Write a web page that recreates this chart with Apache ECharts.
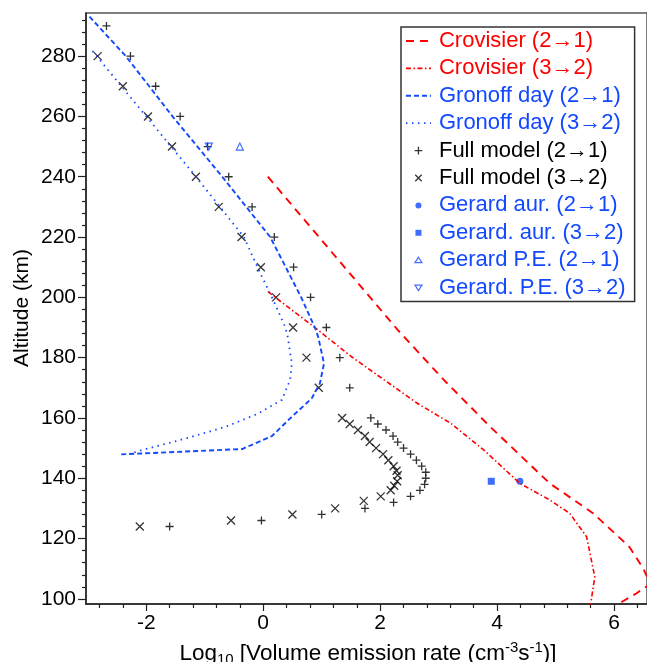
<!DOCTYPE html>
<html>
<head>
<meta charset="utf-8">
<script src="https://cdn.jsdelivr.net/npm/echarts@6/dist/echarts.min.js"></script>
<style>
  html, body { margin: 0; padding: 0; background: #fff; }
  #chart { width: 647px; height: 662px; }
</style>
</head>
<body>
<div id="chart"></div>
<script>
// ---- axis ranges and tick values ----
const X_MIN = -3.03, X_MAX = 6.563;
const Y_MIN = 98.3, Y_MAX = 294.3;
const xMajorTicks = [-2, 0, 2, 4, 6];
const xMinorTicks = [-2.8, -2.4, -1.6, -1.2, -0.8, -0.4, 0.4, 0.8, 1.2, 1.6, 2.4, 2.8, 3.2, 3.6, 4.4, 4.8, 5.2, 5.6, 6.4];
const yMajorTicks = [100, 120, 140, 160, 180, 200, 220, 240, 260, 280];
const yMinorTicks = [104, 108, 112, 116, 124, 128, 132, 136, 144, 148, 152, 156, 164, 168, 172, 176,
                     184, 188, 192, 196, 204, 208, 212, 216, 224, 228, 232, 236, 244, 248, 252, 256,
                     264, 268, 272, 276, 284, 288, 292];

// ---- Crovisier profiles (log10 rate, altitude km) ----
const crovisier21Log = [0.08, 2.30, 3.09, 3.88, 4.90, 5.64, 6.26, 6.50, 6.62, 6.38, 6.00];
const crovisier21Alt = [240, 189.2, 172.6, 157.1, 138.3, 128.4, 117.3, 110, 105, 101.8, 97.5];
const crovisier32Log = [0.08, 0.83, 1.51, 2.07, 2.64, 3.21, 3.77, 4.39, 4.90, 5.24, 5.53, 5.67, 5.61, 5.60];
const crovisier32Alt = [201.9, 190.8, 180.3, 172.6, 164.8, 158.2, 149.4, 138.3, 132.8, 128.4, 120.6, 107.3, 99.6, 97.5];

// ---- Gronoff dayside profiles ----
const gronoff21Log = [-2.97, -2.35, -1.55, -0.70, 0.12, 0.65, 0.89, 0.94, 1.04, 0.97, 0.83, 0.49, 0.15, -0.36, -2.45];
const gronoff21Alt = [293.1, 280, 260, 240, 220, 200, 189.7, 186.9, 178.1, 171.5, 166.5, 160.4, 154, 149.7, 147.9];
const gronoff32Log = [-2.92, -2.00, -1.15, -0.33, -0.05, 0.15, 0.38, 0.42, 0.49, 0.46, 0.32, -0.08, -0.64, -1.32, -2.06, -2.25];
const gronoff32Alt = [281.7, 260, 240, 220, 208, 200, 190, 186.9, 178.1, 172.6, 166, 161.5, 157.1, 153.2, 149.4, 148.3];

// ---- Full model points ----
const full21Alt = [124, 126, 128, 130, 132, 134, 136, 138, 140, 142, 144, 146, 148, 150, 152, 154, 156, 158, 160,
                   170, 180, 190, 200, 210, 220, 230, 240, 250, 260, 270, 280, 290];
const full21Log = [-1.60, -0.03, 1.00, 1.74, 2.23, 2.52, 2.68, 2.76, 2.78, 2.78, 2.71, 2.62, 2.52, 2.40, 2.30, 2.22, 2.10, 1.96, 1.84,
                   1.48, 1.31, 1.08, 0.81, 0.52, 0.19, -0.19, -0.59, -0.95, -1.42, -1.84, -2.27, -2.68];
const full32Alt = [124, 126, 128, 130, 132.5, 134, 136, 137.5, 139, 141, 142.5, 144, 146, 148, 150, 152, 154, 156, 158, 160,
                   170, 180, 190, 200, 210, 220, 230, 240, 250, 260, 270, 280];
const full32Log = [-2.11, -0.55, 0.50, 1.23, 1.72, 2.01, 2.18, 2.24, 2.29, 2.30, 2.28, 2.23, 2.14, 2.05, 1.93, 1.82, 1.74, 1.62, 1.48, 1.35,
                   0.95, 0.74, 0.51, 0.22, -0.04, -0.37, -0.76, -1.15, -1.56, -1.97, -2.40, -2.83];

// ---- Gerard values ----
const gerardAur21 = { log: [4.39], alt: [139] };
const gerardAur32 = { log: [3.90], alt: [139] };
const gerardPE21 = { log: [-0.40], alt: [250] };
const gerardPE32 = { log: [-0.93], alt: [250] };

const pairs = (xs, ys) => xs.map((x, i) => [x, ys[i]]);

const RED = '#ff0000';
const BLUE = '#1248ff';
const FONT = 'Liberation Sans';

const PLUS = 'path://M0,-1L0,1M-1,0L1,0';
const CROSS = 'path://M-1,-1L1,1M-1,1L1,-1';
// legend icons padded inside a 12x12 box so they draw small
const PLUS_ICON = 'path://M-6,-6M6,6M0,-3.8L0,3.8M-3.8,0L3.8,0';
const CROSS_ICON = 'path://M-6,-6M6,6M-3.2,-3.2L3.2,3.2M-3.2,3.2L3.2,-3.2';
const DOT_ICON = 'path://M-6,-6M6,6M-3,0A3,3 0 1,0 3,0A3,3 0 1,0 -3,0Z';
const SQUARE_ICON = 'path://M-6,-6M6,6M-3,-3L3,-3L3,3L-3,3Z';
const UP_ICON = 'path://M-6,-6M6,6M0,-3L3.5,2.5L-3.5,2.5Z';
const DOWN_ICON = 'path://M-6,-6M6,6M0,3L3.5,-2.5L-3.5,-2.5Z';
const CLEAR = 'rgba(0,0,0,0)';

// dash patterns of the four profiles
const DASH_C21 = [8, 6];
const DASH_C32 = [5, 2.5, 1.5, 2.5];
const DASH_G21 = [5, 3];
const DASH_G32 = [1.5, 4.5];

const names = {
  c21: 'Crovisier (2\u21921)',
  c32: 'Crovisier (3\u21922)',
  g21: 'Gronoff day (2\u21921)',
  g32: 'Gronoff day (3\u21922)',
  f21: 'Full model (2\u21921)',
  f32: 'Full model (3\u21922)',
  ga21: 'Gerard aur. (2\u21921)',
  ga32: 'Gerard. aur. (3\u21922)',
  gp21: 'Gerard P.E. (2\u21921)',
  gp32: 'Gerard. P.E. (3\u21922)'
};

const axisText = { fontSize: 21, color: '#000', fontFamily: FONT };
const hiddenSymbol = { opacity: 0 };

const chart = echarts.init(document.getElementById('chart'), null, { renderer: 'canvas' });
chart.setOption({
  animation: false,
  backgroundColor: '#fff',
  textStyle: { fontFamily: FONT },
  grid: {
    left: 86, top: 13, right: -4, bottom: 58,
    show: true, borderColor: '#555', borderWidth: 1.5, backgroundColor: CLEAR
  },
  xAxis: [
    {
      type: 'value', min: X_MIN, max: X_MAX, position: 'bottom',
      axisLine: { onZero: false, lineStyle: { color: '#222', width: 1.5 } },
      axisTick: { customValues: xMajorTicks, length: 7, lineStyle: { color: '#222', width: 1.2 } },
      axisLabel: { customValues: xMajorTicks, margin: 9, ...axisText },
      splitLine: { show: false }
    },
    {
      type: 'value', min: X_MIN, max: X_MAX, position: 'bottom',
      axisLine: { show: false, onZero: false },
      axisTick: { customValues: xMinorTicks, length: 4, lineStyle: { color: '#222', width: 1.2 } },
      axisLabel: { show: false },
      splitLine: { show: false }
    }
  ],
  yAxis: [
    {
      type: 'value', min: Y_MIN, max: Y_MAX, position: 'left',
      axisLine: { show: true, onZero: false, lineStyle: { color: '#222', width: 1.5 } },
      axisTick: { show: true, customValues: yMajorTicks, length: 8, lineStyle: { color: '#222', width: 1.2 } },
      axisLabel: { customValues: yMajorTicks, margin: 10, ...axisText },
      splitLine: { show: false }
    },
    {
      type: 'value', min: Y_MIN, max: Y_MAX, position: 'left',
      axisLine: { show: false, onZero: false },
      axisTick: { show: true, customValues: yMinorTicks, length: 4, lineStyle: { color: '#222', width: 1.2 } },
      axisLabel: { show: false },
      splitLine: { show: false }
    }
  ],
  legend: {
    orient: 'vertical',
    left: 401, top: 27,
    padding: [3, 9, 3, 4],
    itemWidth: 25, itemHeight: 12, itemGap: 5.4,
    borderColor: '#333', borderWidth: 1.5,
    backgroundColor: '#fff',
    selectedMode: false,
    textStyle: { fontSize: 22, lineHeight: 22, fontFamily: FONT, padding: [0, 0, 0, 3] },
    data: [
      { name: names.c21, textStyle: { color: RED }, itemStyle: hiddenSymbol,
        lineStyle: { color: RED, width: 1.9, type: DASH_C21 } },
      { name: names.c32, textStyle: { color: RED }, itemStyle: hiddenSymbol,
        lineStyle: { color: RED, width: 1.6, type: DASH_C32 } },
      { name: names.g21, textStyle: { color: BLUE }, itemStyle: hiddenSymbol,
        lineStyle: { color: BLUE, width: 1.9, type: DASH_G21 } },
      { name: names.g32, textStyle: { color: BLUE }, itemStyle: hiddenSymbol,
        lineStyle: { color: BLUE, width: 1.8, type: DASH_G32 } },
      { name: names.f21, icon: PLUS_ICON, textStyle: { color: '#000' },
        itemStyle: { color: CLEAR, borderColor: '#000', borderWidth: 1.3 } },
      { name: names.f32, icon: CROSS_ICON, textStyle: { color: '#000' },
        itemStyle: { color: CLEAR, borderColor: '#000', borderWidth: 1.3 } },
      { name: names.ga21, icon: DOT_ICON, textStyle: { color: BLUE },
        itemStyle: { color: BLUE, borderWidth: 0 } },
      { name: names.ga32, icon: SQUARE_ICON, textStyle: { color: BLUE },
        itemStyle: { color: BLUE, borderWidth: 0 } },
      { name: names.gp21, icon: UP_ICON, textStyle: { color: BLUE },
        itemStyle: { color: CLEAR, borderColor: BLUE, borderWidth: 1.2 } },
      { name: names.gp32, icon: DOWN_ICON, textStyle: { color: BLUE },
        itemStyle: { color: CLEAR, borderColor: BLUE, borderWidth: 1.2 } }
    ]
  },
  graphic: [
    {
      type: 'text', x: 22, y: 308, rotation: Math.PI / 2,
      style: {
        text: 'Altitude (km)', fontSize: 21, fontFamily: FONT, fill: '#000',
        align: 'center', verticalAlign: 'middle'
      }
    },
    {
      type: 'text', x: 368, y: 653.5,
      style: {
        text: '{m|Log}{s|10}{m| [Volume emission rate (cm}{p|-3}{m|s}{p|-1}{m|)]}',
        fill: '#000', fontFamily: FONT, align: 'center', verticalAlign: 'middle',
        rich: {
          m: { fontSize: 22.5, lineHeight: 27, fontFamily: FONT, verticalAlign: 'middle' },
          s: { fontSize: 15, lineHeight: 15, fontFamily: FONT, verticalAlign: 'bottom' },
          p: { fontSize: 15, lineHeight: 15, fontFamily: FONT, verticalAlign: 'top' }
        }
      }
    }
  ],
  series: [
    {
      name: names.c21, type: 'line', data: pairs(crovisier21Log, crovisier21Alt),
      symbol: 'none', showSymbol: false, color: RED,
      lineStyle: { color: RED, width: 1.9, type: DASH_C21 }
    },
    {
      name: names.c32, type: 'line', data: pairs(crovisier32Log, crovisier32Alt),
      symbol: 'none', showSymbol: false, color: RED,
      lineStyle: { color: RED, width: 1.6, type: DASH_C32 }
    },
    {
      name: names.g21, type: 'line', data: pairs(gronoff21Log, gronoff21Alt),
      symbol: 'none', showSymbol: false, color: BLUE,
      lineStyle: { color: BLUE, width: 1.9, type: DASH_G21 }
    },
    {
      name: names.g32, type: 'line', data: pairs(gronoff32Log, gronoff32Alt),
      symbol: 'none', showSymbol: false, color: BLUE,
      lineStyle: { color: BLUE, width: 1.8, type: DASH_G32 }
    },
    {
      name: names.f21, type: 'scatter', data: pairs(full21Log, full21Alt),
      symbol: PLUS, symbolSize: 8,
      itemStyle: { color: CLEAR, borderColor: '#000', borderWidth: 1.3 }
    },
    {
      name: names.f32, type: 'scatter', data: pairs(full32Log, full32Alt),
      symbol: CROSS, symbolSize: 8,
      itemStyle: { color: CLEAR, borderColor: '#000', borderWidth: 1.3 }
    },
    {
      name: names.ga21, type: 'scatter', data: pairs(gerardAur21.log, gerardAur21.alt),
      symbol: 'circle', symbolSize: 7,
      itemStyle: { color: BLUE }
    },
    {
      name: names.ga32, type: 'scatter', data: pairs(gerardAur32.log, gerardAur32.alt),
      symbol: 'rect', symbolSize: 7,
      itemStyle: { color: BLUE }
    },
    {
      name: names.gp21, type: 'scatter', data: pairs(gerardPE21.log, gerardPE21.alt),
      symbol: 'triangle', symbolSize: 7,
      itemStyle: { color: CLEAR, borderColor: BLUE, borderWidth: 1.2 }
    },
    {
      name: names.gp32, type: 'scatter', data: pairs(gerardPE32.log, gerardPE32.alt),
      symbol: 'triangle', symbolRotate: 180, symbolSize: 7,
      itemStyle: { color: CLEAR, borderColor: BLUE, borderWidth: 1.2 }
    }
  ]
});
</script>
</body>
</html>
